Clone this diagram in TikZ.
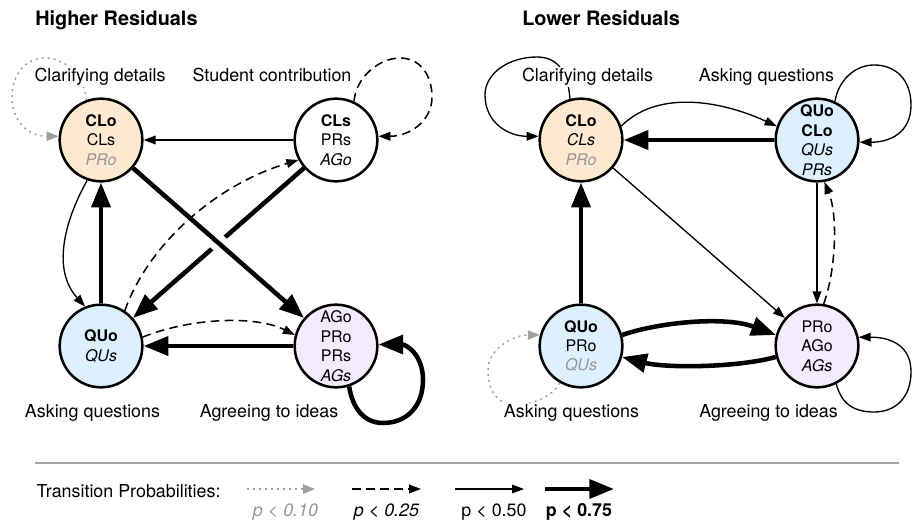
\documentclass[tikz,border=0pt]{standalone}
\usepackage{fontspec}
\setmainfont{TeX Gyre Heros}
\usetikzlibrary{arrows.meta,calc}
\definecolor{peach}{RGB}{253,233,208}
\definecolor{lblue}{RGB}{221,240,253}
\definecolor{lpurple}{RGB}{243,236,253}
\definecolor{dotgray}{RGB}{160,160,160}
\definecolor{txtgray}{RGB}{150,150,150}
\definecolor{sepgray}{RGB}{165,165,165}
\begin{document}
\begin{tikzpicture}[x=0.75pt,y=-0.75pt,
  st/.style={circle,draw,line width=1.9pt,minimum size=62pt,inner sep=0pt,align=center,
    font=\fontsize{12}{14.6}\selectfont},
  lab/.style={font=\fontsize{13.4}{16}\selectfont,anchor=base,inner sep=1pt,fill=white},
  ttl/.style={font=\fontsize{14.9}{17}\selectfont\bfseries,anchor=base west,inner sep=0pt},
  p10/.style={draw=dotgray,line width=1.1pt,dash pattern=on 1.5pt off 3pt,
    -{Triangle[length=9pt,width=7pt]}},
  p25/.style={line width=1.15pt,dash pattern=on 6.5pt off 4pt,
    -{Triangle[length=9pt,width=6.5pt]}},
  p50/.style={line width=1pt,-{Triangle[length=9pt,width=6.5pt]}},
  p75/.style={line width=3.4pt,-{Triangle[length=18.5pt,width=14pt]}},
  ]
\path[use as bounding box] (0,0) rectangle (912,524);

% titles
\node[ttl] (t1) at (35,26) {Higher Residuals};
\node[ttl] (t2) at (522,26) {Lower Residuals};

% states, left
\node[st,fill=peach]   (A1) at (101,140) {\textbf{CLo}\\CLs\\{\color{txtgray}\itshape PRo}};
\node[st,fill=white]   (B1) at (336,140) {\textbf{CLs}\\PRs\\\textit{AGo}};
\node[st,fill=lblue]   (C1) at (101,346) {\textbf{QUo}\\\textit{QUs}};
\node[st,fill=lpurple] (D1) at (336,346) {AGo\\PRo\\PRs\\\textit{AGs}};

% states, right
\node[st,fill=peach]   (A2) at (581,140) {\textbf{CLo}\\\textit{CLs}\\{\color{txtgray}\itshape PRo}};
\node[st,fill=lblue]   (B2) at (817,140) {\textbf{QUo}\\\textbf{CLo}\\\textit{QUs}\\\textit{PRs}};
\node[st,fill=lblue]   (C2) at (581,346) {\textbf{QUo}\\PRo\\{\color{txtgray}\itshape QUs}};
\node[st,fill=lpurple] (D2) at (817,346) {PRo\\AGo\\\textit{AGs}};

% edges, left
\draw[p50] (B1) -- (A1);
\draw[p75] (B1) -- (C1);
\draw[white,line width=13pt] ($(A1)!0.44!(D1)$) -- ($(A1)!0.56!(D1)$);
\draw[p75] (A1) -- (D1);
\draw[p75] (C1) -- (A1);
\draw[p75] (D1) -- (C1);
\draw[p50] (A1.-109) .. controls (64,222) and (52,270) .. (C1.112);
\draw[p25] (C1.56) .. controls (148,245) and (215,185) .. (B1.208);
\draw[p25] (C1.12) .. controls (190,318) and (255,315) .. (D1.165);
\draw[p10] (A1.110) .. controls +(-2,-25) and +(20,0) .. (45,58)
  .. controls +(-20,0) and +(0,-22) .. (12,97) .. controls +(0,25) and +(-30,0) .. (A1.175);
\draw[p25] (B1.65) .. controls +(2,-25) and +(-20,0) .. (400,58)
  .. controls +(20,0) and +(0,-22) .. (432,97) .. controls +(0,25) and +(30,0) .. (B1.5);
\draw[p75] (D1.-72) .. controls +(3,20) and +(-20,0) .. (383,423)
  .. controls +(25,0) and +(0,25) .. (423,380) .. controls +(0,-25) and +(28,0) .. (D1.2);

% edges, right
\draw[p75] (B2) -- (A2);
\draw[p50] (A2.19) .. controls (655,92) and (715,98) .. (B2.161);
\draw[p50] (B2) -- (D2);
\draw[p25] (D2.81) .. controls (836,270) and (838,215) .. (B2.-80);
\draw[p50] (A2) -- (D2);
\draw[p75] (C2) -- (A2);
\draw[p75] (C2.15) .. controls (660,322) and (725,316) .. (D2.165);
\draw[p75] (D2.195) .. controls (735,368) and (665,368) .. (C2.-15);
\draw[p50] (A2.105) .. controls +(-2,-25) and +(22,0) .. (537,57)
  .. controls +(-28,0) and +(0,-22) .. (485,95) .. controls +(0,28) and +(-30,0) .. (A2.175);
\draw[p50] (B2.65) .. controls +(3,-20) and +(-20,0) .. (874,65)
  .. controls +(22,0) and +(0,-25) .. (911,105) .. controls +(0,28) and +(30,0) .. (B2.-3);
\draw[p50] (D2.-63) .. controls +(5,20) and +(-20,0) .. (874,412)
  .. controls +(22,0) and +(0,25) .. (911,372) .. controls +(0,-28) and +(30,0) .. (D2.12);
\draw[p10] (C2.240) .. controls +(-8,15) and +(15,0) .. (515,405)
  .. controls +(-18,0) and +(0,20) .. (488,370) .. controls +(0,-22) and +(-25,0) .. (C2.165);

% labels
\node[lab] (la1) at (100,81.5) {Clarifying details};
\node[lab] (lb1) at (272,81.5) {Student contribution};
\node[lab] (lc1) at (92.5,417) {Asking questions};
\node[lab] (ld1) at (269,417) {Agreeing to ideas};
\node[lab] (la2) at (587.5,81.5) {Clarifying details};
\node[lab] (lb2) at (766.5,81.5) {Asking questions};
\node[lab] (lc2) at (571.5,417) {Asking questions};
\node[lab] (ld2) at (768.5,417) {Agreeing to ideas};

% legend
\draw[sepgray,line width=1.2pt] (35,463) -- (899,463);
\node[lab,anchor=base west] (tp) at (35,497) {Transition Probabilities:};
\coordinate (g1) at (247,489); \coordinate (g2) at (315,489);
\coordinate (d1) at (352,489); \coordinate (d2) at (421,489);
\coordinate (s1) at (455,489); \coordinate (s2) at (524,489);
\coordinate (k1) at (545,489); \coordinate (k2) at (614,489);
\draw[p10] (g1) -- (g2);
\draw[p25] (d1) -- (d2);
\draw[p50] (s1) -- (s2);
\draw[p75] (k1) -- (k2);
\node[lab] (q1) at (285.5,516) {\color{txtgray}\itshape p < 0.10};
\node[lab] (q2) at (386.5,516) {\itshape p < 0.25};
\node[lab] (q3) at (494,516) {p < 0.50};
\node[lab] (q4) at (579,516) {\bfseries p < 0.75};
\end{tikzpicture}
\end{document}
